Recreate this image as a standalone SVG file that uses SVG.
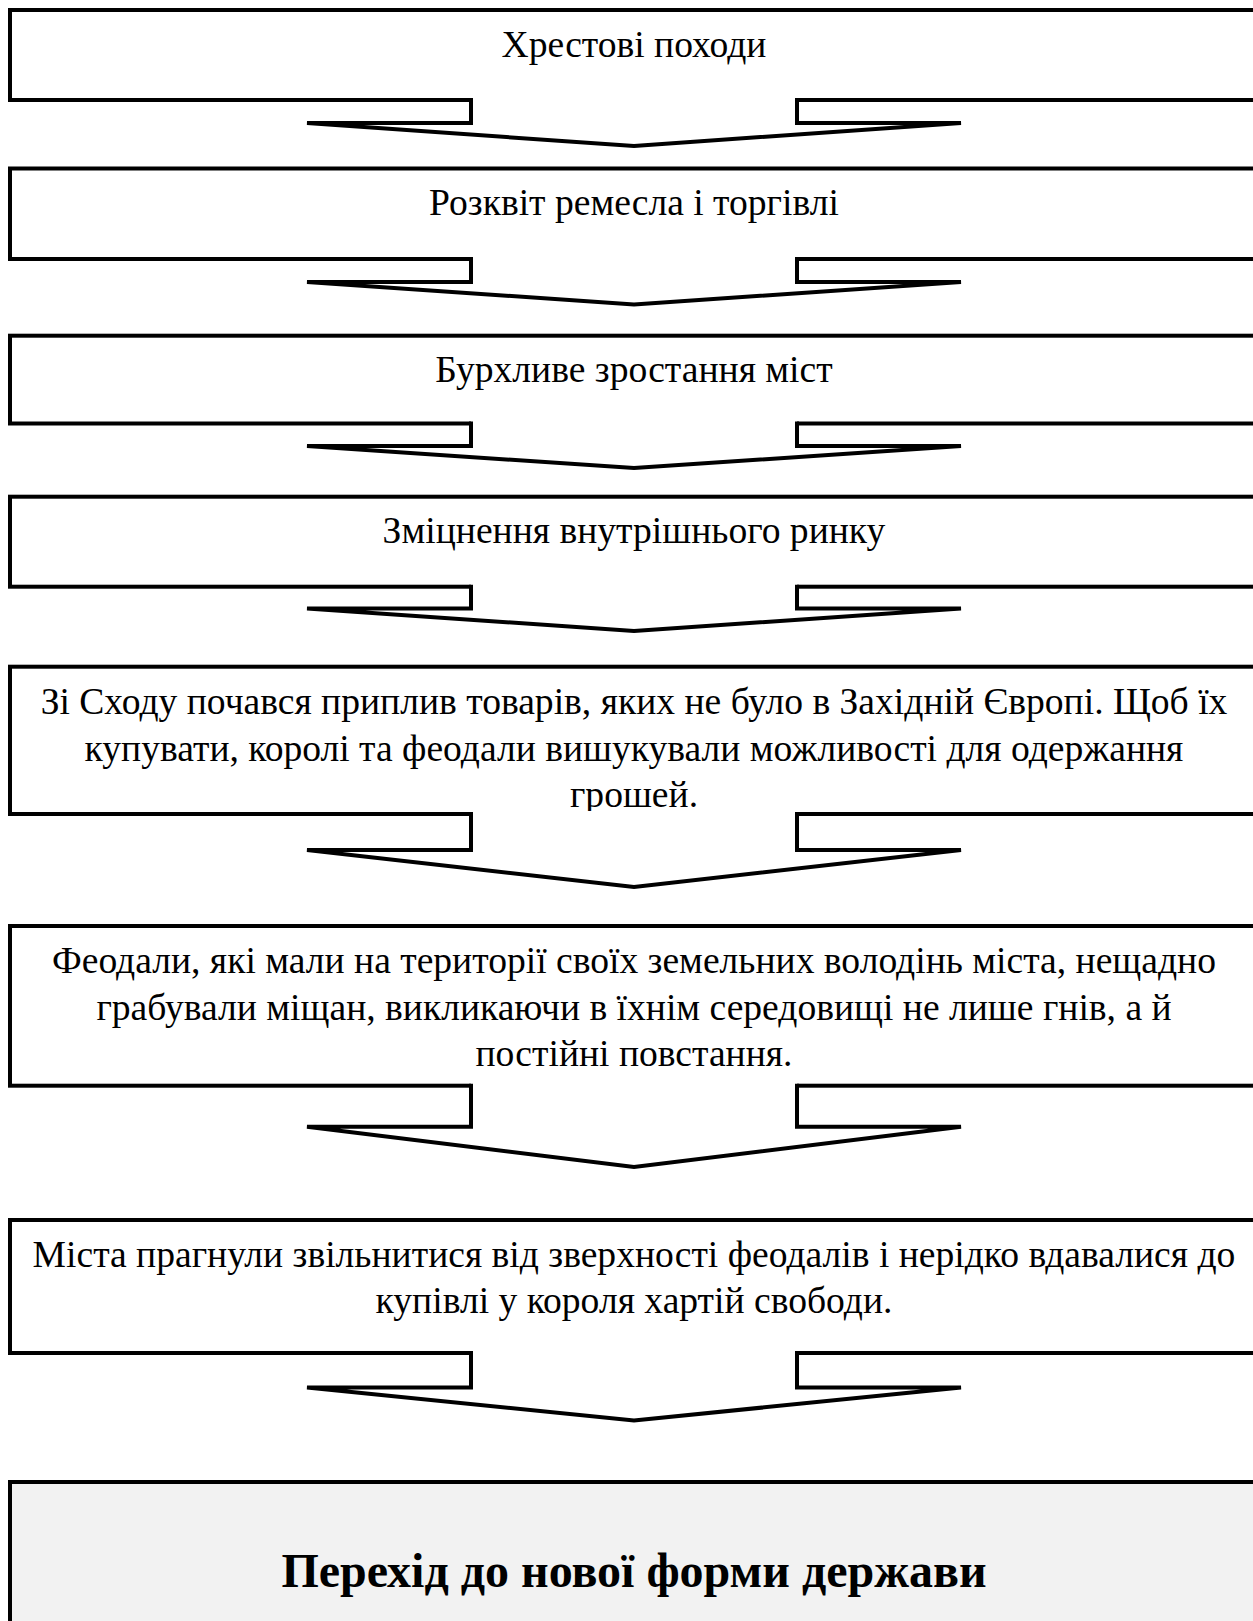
<svg xmlns="http://www.w3.org/2000/svg" width="1253" height="1621" viewBox="0 0 1253 1621">
<style>
.box{fill:#fff;stroke:#000;stroke-width:4}
.final{fill:#f2f2f2}
.t{font-family:"Liberation Serif","Times New Roman",serif;font-size:37.6px;text-anchor:middle;fill:#000}
.tb{font-weight:bold;font-size:48px}
.af{fill:#fff;stroke:none}
.as{fill:none;stroke:#000;stroke-width:4;stroke-linejoin:miter}
</style>
<rect width="1253" height="1621" fill="#fff"/>
<g id="n1"><rect class="box" x="10" y="10" width="1250" height="90"/><text class="t" x="634" y="56.5">Хрестові походи</text></g>
<g id="n2"><rect class="box" x="10" y="168.5" width="1250" height="90.5"/><text class="t" x="634" y="215">Розквіт ремесла і торгівлі</text></g>
<g id="n3"><rect class="box" x="10" y="335.7" width="1250" height="87.8"/><text class="t" x="634" y="382">Бурхливе зростання міст</text></g>
<g id="n4"><rect class="box" x="10" y="496.7" width="1250" height="90"/><text class="t" x="634" y="543">Зміцнення внутрішнього ринку</text></g>
<g id="n5"><rect class="box" x="10" y="666.7" width="1250" height="147.3"/><text class="t" x="634" y="714">Зі Сходу почався приплив товарів, яких не було в Західній Європі. Щоб їх</text><text class="t" x="634" y="760.5">купувати, королі та феодали вишукували можливості для одержання</text><text class="t" x="634" y="807">грошей.</text></g>
<g id="n6"><rect class="box" x="10" y="926" width="1250" height="159.7"/><text class="t" x="634" y="973">Феодали, які мали на території своїх земельних володінь міста, нещадно</text><text class="t" x="634" y="1019.5">грабували міщан, викликаючи в їхнім середовищі не лише гнів, а й</text><text class="t" x="634" y="1066">постійні повстання.</text></g>
<g id="n7"><rect class="box" x="10" y="1220" width="1250" height="133"/><text class="t" x="634" y="1266.5">Міста прагнули звільнитися від зверхності феодалів і нерідко вдавалися до</text><text class="t" x="634" y="1313">купівлі у короля хартій свободи.</text></g>
<g id="n8"><rect class="box final" x="10" y="1482" width="1250" height="200"/><text class="t tb" x="634" y="1587">Перехід до нової форми держави</text></g>
<g id="connectors">
<path class="af" d="M471,97 V123 H307 L634,146 L961,123 H797 V97 Z"/>
<path class="as" d="M471,98 V123 H307 L634,146 L961,123 H797 V98"/>
<path class="af" d="M471,256 V282 H307 L634,304.5 L961,282 H797 V256 Z"/>
<path class="as" d="M471,257 V282 H307 L634,304.5 L961,282 H797 V257"/>
<path class="af" d="M471,420.5 V446 H307 L634,468 L961,446 H797 V420.5 Z"/>
<path class="as" d="M471,421.5 V446 H307 L634,468 L961,446 H797 V421.5"/>
<path class="af" d="M471,583.7 V608.5 H307 L634,631 L961,608.5 H797 V583.7 Z"/>
<path class="as" d="M471,584.7 V608.5 H307 L634,631 L961,608.5 H797 V584.7"/>
<path class="af" d="M471,811 V850 H307 L634,887 L961,850 H797 V811 Z"/>
<path class="as" d="M471,812 V850 H307 L634,887 L961,850 H797 V812"/>
<path class="af" d="M471,1082.7 V1126.7 H307 L634,1167 L961,1126.7 H797 V1082.7 Z"/>
<path class="as" d="M471,1083.7 V1126.7 H307 L634,1167 L961,1126.7 H797 V1083.7"/>
<path class="af" d="M471,1350 V1387.5 H307 L634,1420.5 L961,1387.5 H797 V1350 Z"/>
<path class="as" d="M471,1351 V1387.5 H307 L634,1420.5 L961,1387.5 H797 V1351"/>
</g>
</svg>
